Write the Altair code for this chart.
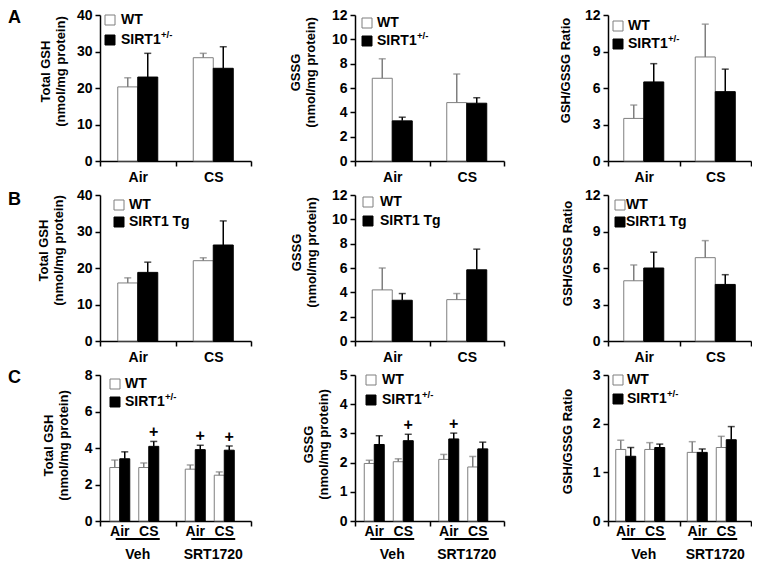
import altair as alt
import pandas as pd

FONT = "Liberation Sans"
GRAY = "#7f7f7f"

conditions = ["Air", "CS"]
treatments = ["Veh", "SRT1720"]
genotypes = ["WT", "Mutant"]

# ---------------- Row A : WT vs SIRT1+/- ----------------
a_gsh_wt = [20.3, 28.3]
a_gsh_wt_err = [2.5, 1.2]
a_gsh_mut = [23.0, 25.4]
a_gsh_mut_err = [6.5, 5.9]

a_gssg_wt = [6.8, 4.8]
a_gssg_wt_err = [1.6, 2.35]
a_gssg_mut = [3.3, 4.75]
a_gssg_mut_err = [0.3, 0.45]

a_ratio_wt = [3.5, 8.55]
a_ratio_wt_err = [1.1, 2.7]
a_ratio_mut = [6.5, 5.7]
a_ratio_mut_err = [1.5, 1.85]

# ---------------- Row B : WT vs SIRT1 Tg ----------------
b_gsh_wt = [15.9, 22.0]
b_gsh_wt_err = [1.4, 0.8]
b_gsh_mut = [18.8, 26.3]
b_gsh_mut_err = [2.8, 6.6]

b_gssg_wt = [4.2, 3.4]
b_gssg_wt_err = [1.8, 0.5]
b_gssg_mut = [3.35, 5.85]
b_gssg_mut_err = [0.55, 1.7]

b_ratio_wt = [4.95, 6.85]
b_ratio_wt_err = [1.3, 1.4]
b_ratio_mut = [6.0, 4.65]
b_ratio_mut_err = [1.3, 0.8]

# ---------------- Row C : Veh / SRT1720 ----------------
c_groups = ["Veh", "Veh", "SRT1720", "SRT1720"]
c_conds = ["Air", "CS", "Air", "CS"]

c_gsh_wt = [2.93, 2.93, 2.84, 2.51]
c_gsh_wt_err = [0.41, 0.25, 0.23, 0.18]
c_gsh_mut = [3.41, 4.09, 3.91, 3.88]
c_gsh_mut_err = [0.38, 0.27, 0.24, 0.23]
c_gsh_sig = [False, True, True, True]

c_gssg_wt = [1.97, 2.03, 2.11, 1.85]
c_gssg_wt_err = [0.11, 0.10, 0.17, 0.36]
c_gssg_mut = [2.62, 2.75, 2.81, 2.47]
c_gssg_mut_err = [0.30, 0.22, 0.20, 0.23]
c_gssg_sig = [False, True, True, False]

c_ratio_wt = [1.47, 1.47, 1.41, 1.51]
c_ratio_wt_err = [0.19, 0.14, 0.22, 0.23]
c_ratio_mut = [1.33, 1.51, 1.41, 1.67]
c_ratio_mut_err = [0.18, 0.07, 0.07, 0.27]
c_ratio_sig = [False, False, False, False]

GSH_TITLE = ["Total GSH", "(nmol/mg protein)"]
GSSG_TITLE = ["GSSG", "(nmol/mg protein)"]
RATIO_TITLE = "GSH/GSSG Ratio"

WIDTHS = [151, 149, 143]
HEIGHT = 146

FILL = {"WT": "white", "Mutant": "black"}
EDGE = {"WT": GRAY, "Mutant": "black"}


def y_axis(ticks, title, tx, ty):
    return alt.Axis(values=ticks, title=title, titleX=tx, titleY=ty, titleAngle=270,
                    titleAlign="center", titleBaseline="top", titleFontSize=13,
                    titleFontWeight="bold", titleLineHeight=15, titleColor="black",
                    labelFontSize=14, labelFontWeight="bold", labelColor="black",
                    labelPadding=3, tickSize=5, tickWidth=1.5, tickColor="black",
                    domainColor="black", domainWidth=1.5, grid=False, format="d")


def x_axis(labels=True):
    return alt.Axis(title=None, labelAngle=0, tickBand="extent", labels=labels,
                    labelFontSize=14, labelFontWeight="bold", labelColor="black",
                    labelPadding=4, tickSize=5, tickWidth=1.5, tickColor="black",
                    domainColor="black", domainWidth=1.5, grid=False)


def legend_layers(labels, sups, bx, by1, by2, tx):
    out = []
    one = pd.DataFrame({"k": [0]})
    for lab, sup, by, g in zip(labels, sups, [by1, by2], genotypes):
        out.append(alt.Chart(one).mark_rect(fill=FILL[g], stroke=EDGE[g], strokeWidth=1).encode(
            x=alt.value(bx), x2=alt.value(bx + 10), y=alt.value(by), y2=alt.value(by + 10)))
        out.append(alt.Chart(pd.DataFrame({"t": [lab]})).mark_text(
            align="left", baseline="middle", fontSize=14, fontWeight="bold", color="black").encode(
            x=alt.value(tx), y=alt.value(by + 5), text="t:N"))
        if sup:
            out.append(alt.Chart(pd.DataFrame({"t": [sup]})).mark_text(
                align="left", baseline="middle", fontSize=9.5, fontWeight="bold", color="black").encode(
                x=alt.value(tx + 40), y=alt.value(by), text="t:N"))
    return out


def letter_layer(letter, ly):
    return alt.Chart(pd.DataFrame({"t": [letter]})).mark_text(
        align="left", baseline="middle", fontSize=18, fontWeight="bold", color="black").encode(
        x=alt.value(-92), y=alt.value(ly), text="t:N")


def make_panel(df, x_field, x_dom, slots, bar_w, x_labels, ymax, step, title, tx, ty,
               legend, width, letter=None, letter_y=3, row_c=False):
    """slots: list of (condition-or-None, genotype, pixel offset from band centre)"""
    xs = alt.Scale(domain=x_dom, paddingInner=0, paddingOuter=0)
    ys = alt.Scale(domain=[0, ymax], nice=False)
    X = alt.X(f"{x_field}:N", scale=xs, axis=x_axis(x_labels))
    yax = y_axis(list(range(0, ymax + 1, step)), title, tx, ty)

    def Y(field):
        return alt.Y(f"{field}:Q", scale=ys, axis=yax)

    base = alt.Chart(df)
    layers = []
    for cond, g, off in slots:
        expr = f"datum.geno == '{g}'" + (f" && datum.cond == '{cond}'" if cond else "")
        sub = base.transform_filter(expr)
        layers.append(sub.mark_bar(width=bar_w, xOffset=off, fill=FILL[g], stroke=EDGE[g],
                                   strokeWidth=1).encode(x=X, y=Y("val")))
        layers.append(sub.mark_rule(xOffset=off, color=EDGE[g], strokeWidth=1.5).encode(
            x=X, y=Y("val"), y2="hi:Q"))
        layers.append(sub.mark_tick(xOffset=off, color=EDGE[g], size=7, thickness=1.5).encode(
            x=X, y=Y("hi")))
        if row_c and g == "Mutant":
            sig = sub.transform_filter("datum.sig")
            layers.append(sig.mark_text(text="+", xOffset=off, dy=-9, fontSize=16, fontWeight="bold",
                                        color="black", baseline="middle").encode(x=X, y=Y("hi")))
    if row_c:
        for cond, off in [("Air", -18), ("CS", 11)]:
            lab = pd.DataFrame({"group": treatments, "t": [cond, cond]})
            layers.append(alt.Chart(lab).mark_text(xOffset=off, baseline="middle", fontSize=14,
                                                   fontWeight="bold", color="black").encode(
                x=X, y=alt.value(HEIGHT + 11), text="t:N"))
        grp = pd.DataFrame({"group": treatments})
        layers.append(alt.Chart(grp).mark_bar(color="black", width=44).encode(
            x=X, y=alt.value(HEIGHT + 17), y2=alt.value(HEIGHT + 19)))
        layers.append(alt.Chart(grp).mark_text(baseline="middle", fontSize=14, fontWeight="bold",
                                               color="black").encode(
            x=X, y=alt.value(HEIGHT + 34), text="group:N"))
    layers += legend_layers(*legend)
    if letter:
        layers.append(letter_layer(letter, letter_y))
    return alt.layer(*layers).properties(width=width, height=HEIGHT)


def ab_df(wt, wt_err, mut, mut_err):
    df = pd.DataFrame({
        "cond": conditions + conditions,
        "geno": ["WT"] * 2 + ["Mutant"] * 2,
        "val": wt + mut,
        "err": wt_err + mut_err,
    })
    df["hi"] = df["val"] + df["err"]
    return df


def c_df(wt, wt_err, mut, mut_err, sig):
    df = pd.DataFrame({
        "group": c_groups + c_groups,
        "cond": c_conds + c_conds,
        "geno": ["WT"] * 4 + ["Mutant"] * 4,
        "val": wt + mut,
        "err": wt_err + mut_err,
        "sig": [False] * 4 + sig,
    })
    df["hi"] = df["val"] + df["err"]
    return df


AB_SLOTS = [(None, "WT", -10), (None, "Mutant", 10)]
C_SLOTS = [("Air", "WT", -23), ("Air", "Mutant", -13), ("CS", "WT", 6), ("CS", "Mutant", 16)]


def ab_panel(data, ymax, step, title, tx, ty, legend, col, letter=None, letter_y=3):
    return make_panel(ab_df(*data), "cond", conditions, AB_SLOTS, 20, True, ymax, step,
                      title, tx, ty, legend, WIDTHS[col], letter, letter_y)


def c_panel(data, ymax, step, title, tx, ty, legend, col, letter=None, letter_y=3):
    return make_panel(c_df(*data), "group", treatments, C_SLOTS, 10, False, ymax, step,
                      title, tx, ty, legend, WIDTHS[col], letter, letter_y, row_c=True)


KO = (["WT", "SIRT1"], ["", "+/-"])
TG = (["WT", "SIRT1 Tg"], ["", ""])

panels = [
    ab_panel((a_gsh_wt, a_gsh_wt_err, a_gsh_mut, a_gsh_mut_err), 40, 10, GSH_TITLE, -61, 56,
             (*KO, 5, 0, 20, 21), 0, "A", 3),
    ab_panel((a_gssg_wt, a_gssg_wt_err, a_gssg_mut, a_gssg_mut_err), 12, 2, GSSG_TITLE, -66, 57,
             (*KO, 7, 3, 21, 22), 1),
    ab_panel((a_ratio_wt, a_ratio_wt_err, a_ratio_mut, a_ratio_mut_err), 12, 3, RATIO_TITLE, -49, 55,
             (*KO, 5, 6, 24, 20), 2),
    ab_panel((b_gsh_wt, b_gsh_wt_err, b_gsh_mut, b_gsh_mut_err), 40, 10, GSH_TITLE, -63, 55,
             (*TG, 14, 5, 22, 29), 0, "B", 5),
    ab_panel((b_gssg_wt, b_gssg_wt_err, b_gssg_mut, b_gssg_mut_err), 12, 2, GSSG_TITLE, -65, 57,
             (*TG, 8, 2, 21, 25), 1),
    ab_panel((b_ratio_wt, b_ratio_wt_err, b_ratio_mut, b_ratio_mut_err), 12, 3, RATIO_TITLE, -47, 58,
             (*TG, 7, 5, 22, 18), 2),
    c_panel((c_gsh_wt, c_gsh_wt_err, c_gsh_mut, c_gsh_mut_err, c_gsh_sig), 8, 2, GSH_TITLE, -58, 70,
            (*KO, 10, 4, 22, 25), 0, "C", 3),
    c_panel((c_gssg_wt, c_gssg_wt_err, c_gssg_mut, c_gssg_mut_err, c_gssg_sig), 5, 1, GSSG_TITLE, -53, 69,
            (*KO, 11, 0, 20, 27), 1),
    c_panel((c_ratio_wt, c_ratio_wt_err, c_ratio_mut, c_ratio_mut_err, c_ratio_sig), 3, 1, RATIO_TITLE, -47, 66,
            (*KO, 5, 0, 19, 19), 2),
]

chart = alt.concat(*panels, columns=3, spacing={"row": 34, "column": 104},
                   bounds="flush", align="each").properties(padding=0).configure_view(
    stroke=None).configure_text(font=FONT).configure_axis(labelFont=FONT, titleFont=FONT)

chart.save("out.html", embed_options={"renderer": "svg", "actions": False})
